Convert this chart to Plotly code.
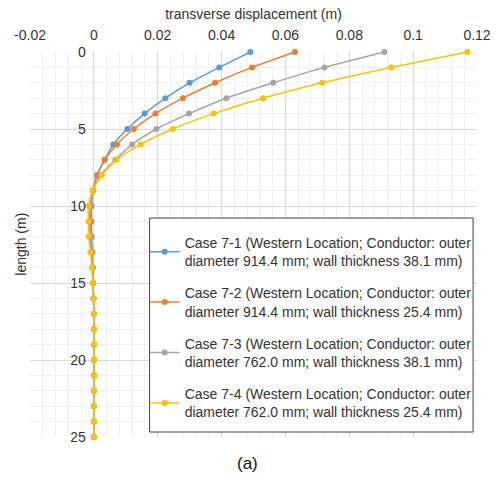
import plotly.graph_objects as go

depth = list(range(0, 26))

case_7_1 = [0.049, 0.0393, 0.030, 0.0224, 0.0159, 0.0105, 0.0061, 0.0034, 0.0010, -0.0002,
            -0.0007, -0.0008, -0.0007, -0.0005, -0.0003, -0.0002, -0.0001, 0, 0, 0, 0, 0, 0, 0, 0, 0]
case_7_2 = [0.063, 0.0495, 0.038, 0.0279, 0.0193, 0.0125, 0.0072, 0.0034, 0.0010, -0.0003,
            -0.0009, -0.0010, -0.0009, -0.0006, -0.0004, -0.0002, -0.0001, 0, 0, 0, 0, 0, 0, 0, 0, 0]
case_7_3 = [0.091, 0.0722, 0.0562, 0.0415, 0.0298, 0.0196, 0.0120, 0.0067, 0.0021, -0.0003,
            -0.0011, -0.0013, -0.0011, -0.0008, -0.0005, -0.0003, -0.0001, 0, 0, 0, 0, 0, 0, 0, 0, 0]
case_7_4 = [0.117, 0.0931, 0.0715, 0.053, 0.0375, 0.0247, 0.0147, 0.0071, 0.0025, -0.0004,
            -0.0017, -0.0017, -0.0016, -0.0011, -0.0006, -0.0003, -0.0001, 0, 0, 0, 0, 0, 0, 0, 0, 0]

series_names = [
    "Case 7-1 (Western Location; Conductor: outer<br>diameter 914.4 mm; wall thickness 38.1 mm)",
    "Case 7-2 (Western Location; Conductor: outer<br>diameter 914.4 mm; wall thickness 25.4 mm)",
    "Case 7-3 (Western Location; Conductor: outer<br>diameter 762.0 mm; wall thickness 38.1 mm)",
    "Case 7-4 (Western Location; Conductor: outer<br>diameter 762.0 mm; wall thickness 25.4 mm)",
]
series_values = [case_7_1, case_7_2, case_7_3, case_7_4]
colors = ["#5B9BD5", "#ED7D31", "#A5A5A5", "#FFC000"]

x_tickvals = [-0.02, 0, 0.02, 0.04, 0.06, 0.08, 0.1, 0.12]
x_ticktext = ["-0.02", "0", "0.02", "0.04", "0.06", "0.08", "0.1", "0.12"]
y_tickvals = [0, 5, 10, 15, 20, 25]

FONT = "Liberation Sans, Arial, sans-serif"
TXT = "#333333"

fig = go.Figure()
for i, (name, vals, col) in enumerate(zip(series_names, series_values, colors)):
    fig.add_trace(go.Scatter(
        x=vals, y=depth, name=name, mode="lines+markers",
        line=dict(color=col, width=1.5, shape="spline", smoothing=0.6),
        marker=dict(color=col, size=6),
        cliponaxis=False, legendgroup=str(i),
    ))

L, R, T, B = 30, 17, 52, 43
W, H = 503, 480
pw = W - L - R
ph = H - T - B

def px_x(p):
    return (p - L) / pw

def px_y(p):
    return (H - B - p) / ph

fig.update_layout(
    width=W, height=H,
    margin=dict(l=L, r=R, t=T, b=B),
    paper_bgcolor="white", plot_bgcolor="white",
    font=dict(family=FONT, size=14, color=TXT),
    showlegend=True,
    legend=dict(
        x=px_x(147), y=px_y(227), xanchor="left", yanchor="top",
        bgcolor="rgba(0,0,0,0)", borderwidth=0,
        font=dict(family=FONT, size=14, color=TXT),
        tracegroupgap=11, itemwidth=30,
    ),
    shapes=[
        dict(type="rect", xref="paper", yref="paper",
             x0=px_x(152), x1=px_x(482), y0=px_y(432), y1=px_y(218),
             line=dict(color="#404040", width=1), fillcolor="white", layer="above"),
    ],
    xaxis=dict(
        range=[-0.02, 0.12], side="top",
        tickvals=x_tickvals, ticktext=x_ticktext,
        showgrid=True, gridcolor="#D9D9D9", gridwidth=1,
        minor=dict(dtick=0.004, tick0=-0.02, showgrid=True, gridcolor="#F0F0F0", gridwidth=1),
        zeroline=False, showline=False,
        ticks="outside", ticklen=5, tickcolor="rgba(0,0,0,0)",
        title=dict(text="transverse displacement (m)", font=dict(size=14, color=TXT), standoff=4),
        tickfont=dict(size=14, color=TXT),
    ),
    yaxis=dict(
        range=[25, 0], tickvals=y_tickvals,
        anchor="free", position=0.02 / 0.14,
        showgrid=True, gridcolor="#D9D9D9", gridwidth=1,
        minor=dict(dtick=1, tick0=0, showgrid=True, gridcolor="#F0F0F0", gridwidth=1),
        zeroline=False, showline=False, ticks="", ticklabelstandoff=8,
        tickfont=dict(size=14, color=TXT),
    ),
    annotations=[
        dict(text="length (m)", xref="paper", yref="paper", x=-(L - 20) / pw, y=0.5,
             textangle=-90, showarrow=False, xanchor="center", yanchor="middle",
             font=dict(size=14, color=TXT)),
        dict(text="(a)", xref="paper", yref="paper", x=px_x(252), y=px_y(464),
             showarrow=False, xanchor="center", yanchor="middle",
             font=dict(size=17, color="#111111")),
    ],
)

fig.write_html("out.html")
